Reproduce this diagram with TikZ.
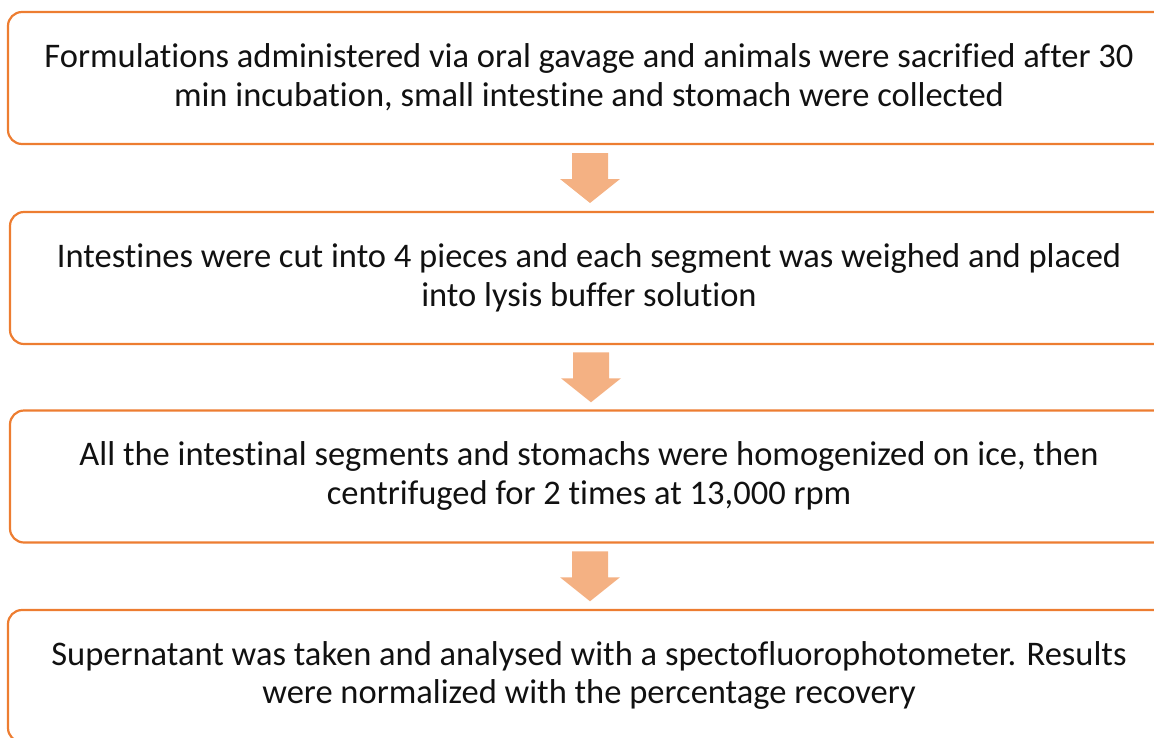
\documentclass[tikz,border=0pt]{standalone}
\usepackage{fontspec}
\setmainfont{Carlito}[Ligatures={NoCommon}]
\usetikzlibrary{calc}
\definecolor{border}{HTML}{ED7D31}
\definecolor{arrowfill}{HTML}{F4B183}
\definecolor{textcol}{HTML}{111111}
\begin{document}
\begin{tikzpicture}[x=1pt,y=-1pt,
  stepbox/.style={draw=border, line width=2.2pt, rounded corners=14pt,
    minimum width=1162pt, minimum height=132pt, inner sep=0pt},
  steptext/.style={align=center, text=textcol, inner sep=0pt,
    font=\fontsize{34.5}{38.7}\selectfont},
  downarrow/.style={fill=arrowfill, draw=none}]
\useasboundingbox (0,0) rectangle (1154,737);
\clip (0,0) rectangle (1154,737);
\node[stepbox] (b1) at (589,78) {};
\node[stepbox] (b2) at (591,278) {};
\node[stepbox] (b3) at (591,476.5) {};
\node[stepbox] (b4) at (589,676) {};
\node[steptext] (t1) at ($(b1.center)+(0,-0.5)$) {Formulations administered via oral gavage and animals were sacrified after 30\\min incubation, small intestine and stomach were collected};
\node[steptext] (t2) at ($(b2.center)+(-2,-0.5)$) {Intestines were cut into 4 pieces and each segment was weighed and placed\\into lysis buffer solution};
\node[steptext] (t3) at ($(b3.center)+(-2,-0.5)$) {All the intestinal segments and stomachs were homogenized on ice, then\\centrifuged for 2 times at 13,000 rpm};
\node[steptext] (t4) at ($(b4.center)+(0,-0.5)$) {Supernatant was taken and analysed with a spectofluorophotometer. Results\\were normalized with the percentage recovery};
\foreach \a/\b in {b1/b2,b2/b3,b3/b4}{
  \coordinate (top) at ($(\a.south)!0.5!(\b.north)$);
  \fill[downarrow] ($(top)+(-18,-25)$) -- ($(top)+(18,-25)$) -- ($(top)+(18,1)$)
    -- ($(top)+(30,1)$) -- ($(top)+(0,25)$) -- ($(top)+(-30,1)$) -- ($(top)+(-18,1)$) -- cycle;
}
\end{tikzpicture}
\end{document}
